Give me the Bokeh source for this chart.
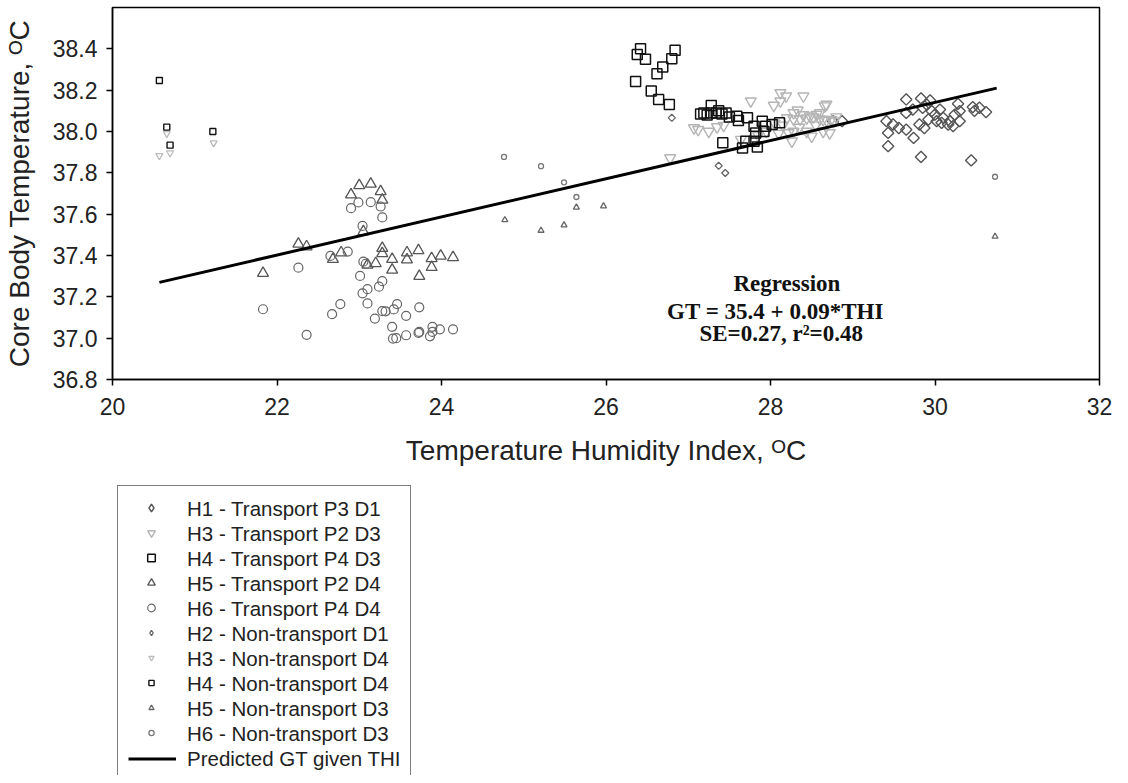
import math
from bokeh.plotting import figure
from bokeh.layouts import column
from bokeh.models import Range1d, FixedTicker, Legend, LegendItem, Label
from bokeh.embed import file_html
from bokeh.resources import INLINE

# ---------------- data ----------------
x_ticks = [20, 22, 24, 26, 28, 30, 32]
y_ticks = [36.8, 37.0, 37.2, 37.4, 37.6, 37.8, 38.0, 38.2, 38.4]

h1_tr_x = [28.76, 28.87, 29.65, 29.83, 29.94, 30.28, 30.46, 30.54, 30.62, 29.65, 29.41, 29.49, 29.56,
           29.65, 29.74, 29.43, 29.43, 29.83, 30.44, 30.48, 29.85, 29.96, 30.00, 30.06, 30.10, 30.18,
           30.24, 30.30, 30.02, 29.92, 29.81, 29.87, 30.16, 30.22, 30.08, 29.73, 30.30, 29.90]
h1_tr_y = [38.05, 38.05, 38.155, 38.16, 38.15, 38.134, 38.118, 38.115, 38.094, 38.09, 38.05, 38.034, 38.017,
           38.009, 37.969, 37.993, 37.929, 37.877, 37.86, 38.10, 38.115, 38.099, 38.082, 38.106, 38.066, 38.05,
           38.082, 38.099, 38.05, 38.058, 38.034, 38.017, 38.034, 38.026, 38.042, 38.106, 38.05, 38.13]

h3_tr_x = [26.78, 27.07, 27.12, 27.25, 27.35, 27.43, 27.64, 27.76, 28.04, 28.12, 28.19, 28.12, 28.40,
           28.68, 28.33, 28.20, 28.28, 28.36, 28.44, 28.52, 28.60, 28.68, 28.77, 28.28, 28.44, 28.64,
           28.26, 28.50, 28.05, 28.15, 28.35, 28.55, 27.95, 28.10, 28.40, 28.60, 28.80, 27.85, 28.66,
           28.28, 28.48, 28.56, 28.64, 28.74, 28.22, 28.72]
h3_tr_y = [37.872, 38.017, 38.009, 38.0, 38.022, 38.029, 37.961, 38.147, 38.126, 38.187, 38.171, 38.147, 38.171,
           38.131, 38.103, 38.066, 38.06, 38.06, 38.065, 38.07, 38.06, 38.055, 38.05, 38.0, 38.0, 38.0,
           37.953, 37.977, 38.04, 38.03, 38.02, 38.03, 38.0, 37.99, 38.08, 38.09, 38.07, 37.98, 38.123,
           38.09, 38.074, 38.082, 38.058, 38.058, 37.993, 37.993]

h4_tr_x = [26.42, 26.38, 26.48, 26.84, 26.80, 26.69, 26.62, 26.36, 26.55, 26.64, 26.77, 27.28, 27.19,
           27.23, 27.28, 27.34, 27.41, 27.46, 27.15, 27.59, 27.61, 27.72, 27.80, 27.90, 27.94, 28.02,
           28.11, 27.82, 27.92, 27.80, 27.70, 27.66, 27.84, 27.42, 27.50, 27.37]
h4_tr_y = [38.401, 38.373, 38.349, 38.393, 38.352, 38.312, 38.280, 38.242, 38.196, 38.155, 38.131, 38.126, 38.09,
           38.08, 38.09, 38.09, 38.085, 38.09, 38.085, 38.074, 38.053, 38.066, 38.026, 38.05, 38.026, 38.034,
           38.042, 37.993, 38.0, 37.953, 37.953, 37.92, 37.925, 37.945, 38.07, 38.10]

h5_tr_x = [23.00, 23.14, 22.90, 23.26, 23.28, 22.26, 22.36, 21.83, 22.68, 22.78, 23.28, 23.28, 23.20,
           23.40, 23.40, 23.58, 23.58, 23.72, 23.73, 23.88, 23.88, 23.99, 24.14, 23.05, 23.10]
h5_tr_y = [37.739, 37.746, 37.694, 37.710, 37.669, 37.456, 37.443, 37.314, 37.382, 37.414, 37.435, 37.41, 37.362,
           37.382, 37.33, 37.414, 37.38, 37.424, 37.30, 37.386, 37.343, 37.398, 37.391, 37.516, 37.354]

h6_tr_x = [22.99, 23.14, 23.26, 22.90, 23.28, 23.04, 22.26, 22.65, 22.86, 23.05, 23.08, 23.01, 23.28,
           23.24, 23.10, 23.04, 21.83, 22.77, 22.67, 23.10, 23.46, 23.42, 23.28, 23.32, 23.73, 23.57,
           23.19, 22.36, 23.40, 23.41, 23.45, 23.57, 23.72, 23.73, 23.86, 23.89, 23.89, 23.98, 24.14]
h6_tr_y = [37.657, 37.658, 37.637, 37.629, 37.584, 37.543, 37.341, 37.398, 37.419, 37.370, 37.36, 37.301, 37.276,
           37.249, 37.237, 37.217, 37.140, 37.165, 37.116, 37.168, 37.165, 37.139, 37.131, 37.13, 37.149, 37.108,
           37.095, 37.016, 37.055, 36.998, 37.00, 37.014, 37.026, 37.03, 37.009, 37.03, 37.055, 37.043, 37.043]

h2_nt_x = [26.80, 27.37, 27.45]
h2_nt_y = [38.066, 37.834, 37.799]

h3_nt_x = [20.57, 20.70, 20.66, 21.23]
h3_nt_y = [37.883, 37.896, 37.99, 37.945]

h4_nt_x = [20.57, 20.66, 20.70, 21.22]
h4_nt_y = [38.247, 38.021, 37.934, 38.0]

h5_nt_x = [24.77, 25.21, 25.49, 25.64, 25.97, 30.73]
h5_nt_y = [37.572, 37.521, 37.547, 37.633, 37.639, 37.492]

h6_nt_x = [24.76, 25.21, 25.49, 25.64, 30.73]
h6_nt_y = [37.877, 37.832, 37.754, 37.683, 37.781]

pred_x = [20.57, 30.75]
pred_y = [37.27, 38.21]

labels = ["H1 - Transport P3 D1", "H3 - Transport P2 D3", "H4 - Transport P4 D3",
          "H5 - Transport P2 D4", "H6 - Transport P4 D4", "H2 - Non-transport D1",
          "H3 - Non-transport D4", "H4 - Non-transport D4", "H5 - Non-transport D3",
          "H6 - Non-transport D3", "Predicted GT given THI"]

series = [
    (h1_tr_x, h1_tr_y, dict(marker="square", angle=math.pi / 4, size=8, line_color="#555555", line_width=1.4)),
    (h3_tr_x, h3_tr_y, dict(marker="inverted_triangle", size=11, line_color="#b4b4b4", line_width=1.4)),
    (h4_tr_x, h4_tr_y, dict(marker="square", size=10, line_color="#111111", line_width=1.5)),
    (h5_tr_x, h5_tr_y, dict(marker="triangle", size=11, line_color="#555555", line_width=1.3)),
    (h6_tr_x, h6_tr_y, dict(marker="circle", size=9, line_color="#666666", line_width=1.2)),
    (h2_nt_x, h2_nt_y, dict(marker="square", angle=math.pi / 4, size=5, line_color="#666666", line_width=1.3)),
    (h3_nt_x, h3_nt_y, dict(marker="inverted_triangle", size=7, line_color="#bbbbbb", line_width=1.3)),
    (h4_nt_x, h4_nt_y, dict(marker="square", size=6, line_color="#111111", line_width=1.4)),
    (h5_nt_x, h5_nt_y, dict(marker="triangle", size=6, line_color="#666666", line_width=1.3)),
    (h6_nt_x, h6_nt_y, dict(marker="circle", size=5, line_color="#777777", line_width=1.3)),
]

# ---------------- main figure ----------------
p = figure(width=1120, height=480, output_backend="svg", toolbar_location=None,
           x_range=Range1d(20, 32), y_range=Range1d(36.8, 38.6),
           min_border_left=108, min_border_right=21, min_border_top=7, min_border_bottom=101)
p.xgrid.visible = False
p.ygrid.visible = False
p.outline_line_color = "black"
p.outline_line_width = 1.5
p.background_fill_color = "white"
p.border_fill_color = "white"

for ax in (p.xaxis[0], p.yaxis[0]):
    ax.axis_line_color = "black"
    ax.axis_line_width = 1.5
    ax.major_tick_line_color = "black"
    ax.major_tick_line_width = 1.5
    ax.major_tick_out = 6
    ax.major_tick_in = 0
    ax.minor_tick_line_color = None
    ax.major_label_text_font = "Liberation Sans"
    ax.major_label_text_font_size = "23px"
    ax.major_label_text_color = "#222222"
    ax.axis_label_text_font = "Liberation Sans"
    ax.axis_label_text_font_size = "28px"
    ax.axis_label_text_font_style = "normal"
    ax.axis_label_text_color = "#222222"

p.xaxis.ticker = FixedTicker(ticks=x_ticks)
p.yaxis.ticker = FixedTicker(ticks=y_ticks)
p.xaxis.major_label_overrides = {t: str(t) for t in x_ticks}
p.yaxis.major_label_overrides = {t: f"{t:.1f}" for t in y_ticks}
p.xaxis.major_label_standoff = 12
p.yaxis.major_label_standoff = 9
p.xaxis.axis_label = "Temperature Humidity Index, ᴼC"
p.yaxis.axis_label = "Core Body Temperature, ᴼC"
p.xaxis.axis_label_standoff = 17
p.yaxis.axis_label_standoff = 15

for xs, ys, style in series:
    p.scatter(xs, ys, fill_color=None, **style)
p.line(pred_x, pred_y, line_color="black", line_width=3)

reg_lines = [("Regression", 28.20, 37.265), ("GT = 35.4 + 0.09*THI", 28.06, 37.13),
             ("SE=0.27, r²=0.48", 28.13, 37.022)]
for txt, xx, yy in reg_lines:
    p.add_layout(Label(x=xx, y=yy, text=txt, text_align="center", text_baseline="middle",
                       text_font="Liberation Serif", text_font_style="bold",
                       text_font_size="23px", text_color="#111111"))

# ---------------- legend figure (series drawn out of its view; legend only) ----------------
q = figure(width=1120, height=295, output_backend="svg", toolbar_location=None,
           x_range=Range1d(0, 1), y_range=Range1d(0, 1),
           min_border_left=108, min_border_right=0, min_border_top=0, min_border_bottom=0)
q.axis.visible = False
q.xgrid.visible = False
q.ygrid.visible = False
q.outline_line_color = None
q.background_fill_color = "white"
q.border_fill_color = "white"

# legend glyph renderers (marker shapes as in the plot; the legend does not rotate, so use diamond)
glyph_renderers = []
for xs, ys, style in series:
    st = dict(style)
    if st.get("angle"):
        st.pop("angle")
        st["marker"] = "diamond"
    glyph_renderers.append(q.scatter(xs, ys, fill_color=None, **st))
blank = q.scatter(pred_x, pred_y, size=1, line_alpha=0, fill_alpha=0)
pred_r = q.line(pred_x, pred_y, line_color="black", line_width=3)

# main legend: box, labels and the line sample
main_items = [LegendItem(label=l, renderers=[blank]) for l in labels[:10]]
main_items.append(LegendItem(label=labels[10], renderers=[pred_r]))
legend = Legend(items=main_items, location="top_left", orientation="vertical",
                label_text_font="Liberation Sans", label_text_font_size="20.5px",
                label_text_color="#222222",
                glyph_width=48, glyph_height=25, label_height=25, label_standoff=11,
                spacing=0, padding=10, margin=5,
                border_line_color="black", border_line_width=1.5,
                background_fill_color="white", background_fill_alpha=1.0)
q.add_layout(legend, "center")

# glyph-only overlays: larger symbols for transport, smaller for non-transport
def glyph_legend(rs, gh, sp, loc):
    return Legend(items=[LegendItem(label=" ", renderers=[r]) for r in rs],
                  location=loc, orientation="vertical",
                  label_text_font_size="8px", label_text_alpha=0.0,
                  glyph_width=48, glyph_height=gh, label_height=gh, label_standoff=0,
                  spacing=sp, padding=0, margin=0,
                  border_line_color=None, background_fill_alpha=0.0)

q.add_layout(glyph_legend(glyph_renderers[:5], 19, 6, (15, 158)), "center")
q.add_layout(glyph_legend(glyph_renderers[5:], 13, 12, (15, 36)), "center")

layout = column(p, q)
open("out.html", "w").write(file_html(layout, INLINE))
